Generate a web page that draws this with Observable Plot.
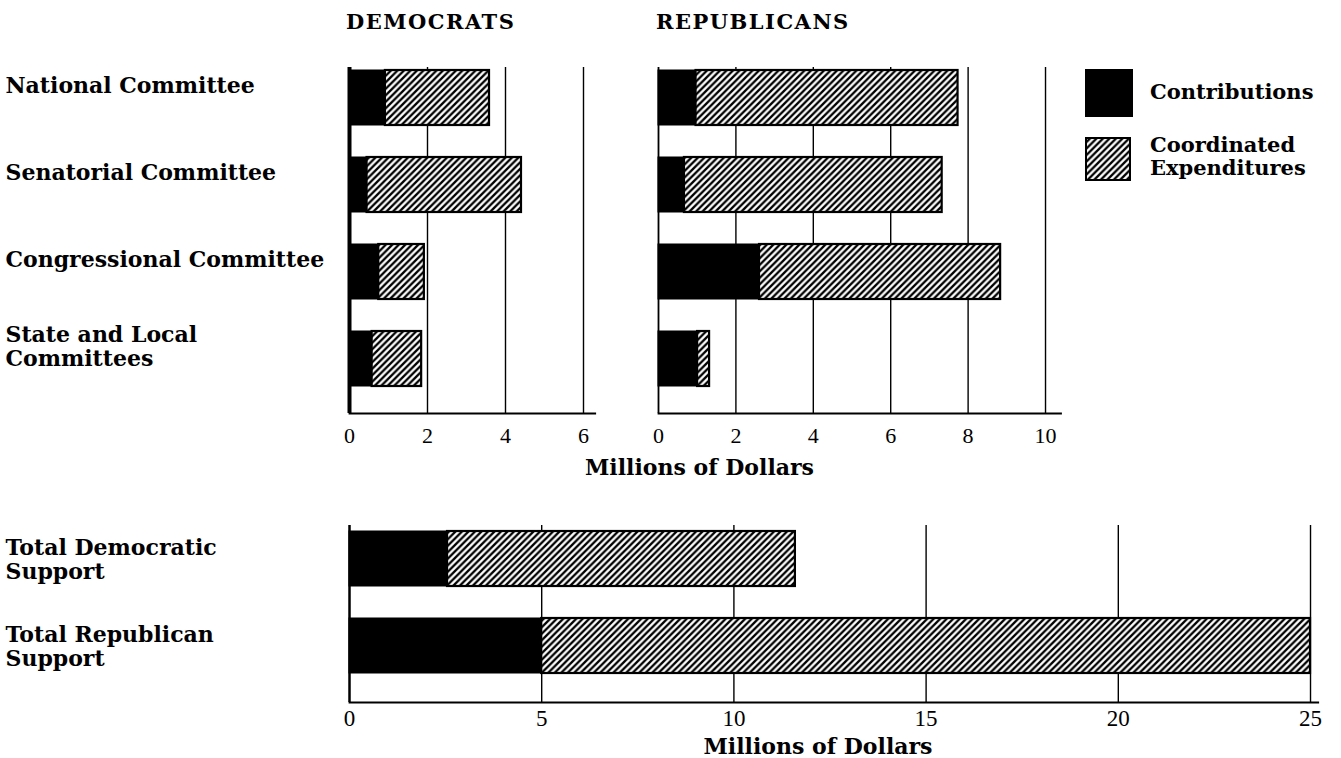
<!DOCTYPE html>
<html><head><meta charset="utf-8">
<script src="https://cdn.jsdelivr.net/npm/d3@7"></script>
<script src="https://cdn.jsdelivr.net/npm/@observablehq/plot@0.6"></script>
<style>
body{margin:0;background:#fff;}
#root{position:relative;width:1341px;height:758px;overflow:hidden;font-family:"DejaVu Serif",serif;color:#000;background:#fff;}
.abs{position:absolute;}
.lbl{font-weight:bold;font-size:21px;line-height:23px;white-space:pre;}
.ttl{font-weight:bold;font-size:21px;letter-spacing:1.5px;white-space:nowrap;}
</style></head><body>
<svg width="0" height="0" style="position:absolute">
<defs><pattern id="hatch" patternUnits="userSpaceOnUse" width="6.5" height="6.5">
<rect width="6.5" height="6.5" fill="white"/>
<path d="M-1.625,1.625 L1.625,-1.625 M0,6.5 L6.5,0 M4.875,8.125 L8.125,4.875" stroke="black" stroke-width="2.3"/>
</pattern></defs></svg>
<div id="root"></div>
<script>
// ---- data ----
const committees = ["National Committee","Senatorial Committee","Congressional Committee","State and Local Committees"];
const committeeLabels = ["National Committee","Senatorial Committee","Congressional Committee","State and Local\nCommittees"];
const demContributions = [0.92, 0.45, 0.75, 0.58];
const demCoordinated   = [2.67, 3.96, 1.17, 1.27];
const repContributions = [0.97, 0.67, 2.61, 1.01];
const repCoordinated   = [6.77, 6.66, 6.23, 0.31];
const totals = ["Total Democratic Support","Total Republican Support"];
const totalLabels = ["Total Democratic\nSupport","Total Republican\nSupport"];
const totalContributions = [2.55, 5.0];
const totalCoordinated   = [9.05, 20.0];
const demTicks = [0, 2, 4, 6];
const repTicks = [0, 2, 4, 6, 8, 10];
const totalTicks = [0, 5, 10, 15, 20, 25];
const panelTitles = ["DEMOCRATS", "REPUBLICANS"];
const legendItems = ["Contributions", "Coordinated\nExpenditures"];
const axisTitle = "Millions of Dollars";

const root = document.getElementById("root");

function panel(o) {
  const rows = o.cats.map((c, i) => ({cat: c, label: o.labels ? o.labels[i] : "", c: o.contrib[i], t: o.contrib[i] + o.coord[i]}));
  const marks = [
    Plot.gridX(o.ticks.filter(d => d !== 0), {stroke: "black", strokeOpacity: 1, strokeWidth: 1.4}),
    Plot.ruleX([0], {stroke: "black", strokeWidth: o.zeroWidth}),
    Plot.frame({anchor: "bottom", stroke: "black", strokeWidth: 1.8}),
    Plot.barX(rows, {y: "cat", x1: "c", x2: "t", fill: "url(#hatch)", stroke: "black", strokeWidth: 2.2}),
    Plot.barX(rows, {y: "cat", x1: 0, x2: "c", fill: "black", stroke: "black", strokeWidth: 1}),
    Plot.axisX(o.ticks, {anchor: "bottom", tickSize: 0, tickPadding: o.tickPadding, fontSize: o.tickFont, label: null, tickFormat: d => String(d)})
  ];
  if (o.labels) {
    marks.push(Plot.text(rows, {y: "cat", text: "label", frameAnchor: "left", textAnchor: "start",
      dx: -(o.marginLeft - 5), dy: o.labelDy, fontSize: 22, fontWeight: "bold", fontFamily: "DejaVu Serif", lineHeight: 1.1, fill: "black"}));
  }
  const svg = Plot.plot({
    width: o.width, height: o.height,
    marginLeft: o.marginLeft, marginRight: o.marginRight, marginTop: o.marginTop, marginBottom: o.marginBottom,
    style: {fontFamily: "Liberation Serif", fontSize: o.tickFont + "px", color: "black", background: "transparent", overflow: "visible"},
    x: {domain: [0, o.xMax]},
    y: {type: "band", domain: o.cats, paddingInner: 0.37, paddingOuter: o.paddingOuter, align: o.align, axis: null},
    marks
  });
  svg.style.position = "absolute";
  svg.style.left = o.left + "px";
  svg.style.top = o.top + "px";
  root.appendChild(svg);
}

// Democrats panel (with row labels)
panel({cats: committees, labels: committeeLabels, contrib: demContributions, coord: demCoordinated, ticks: demTicks,
  xMax: 6.3, left: 0, top: 0, width: 615, height: 460, marginLeft: 349, marginRight: 20.3, marginTop: 67, marginBottom: 47,
  zeroWidth: 4, tickPadding: 14, tickFont: 22, paddingOuter: 0.17, align: 0.1, labelDy: -13});

// Republicans panel
panel({cats: committees, labels: null, contrib: repContributions, coord: repCoordinated, ticks: repTicks,
  xMax: 10.4, left: 615, top: 0, width: 470, height: 460, marginLeft: 43, marginRight: 24.5, marginTop: 67, marginBottom: 47,
  zeroWidth: 1.8, tickPadding: 14, tickFont: 22, paddingOuter: 0.17, align: 0.1, labelDy: 0});

// Totals panel
panel({cats: totals, labels: totalLabels, contrib: totalContributions, coord: totalCoordinated, ticks: totalTicks,
  xMax: 25.2, left: 0, top: 480, width: 1341, height: 278, marginLeft: 349, marginRight: 23.3, marginTop: 45, marginBottom: 56,
  zeroWidth: 2.5, tickPadding: 7, tickFont: 23, paddingOuter: 0.2, align: 0.17, labelDy: 0});

// titles
function addText(txt, cls, left, top, extra) {
  const d = document.createElement("div");
  d.className = "abs " + cls;
  d.textContent = txt;
  d.style.left = left + "px";
  d.style.top = top + "px";
  if (extra) Object.assign(d.style, extra);
  root.appendChild(d);
  return d;
}
addText(panelTitles[0], "ttl", 346, 9);
addText(panelTitles[1], "ttl", 656, 9);
addText(axisTitle, "lbl", 585, 456, {fontSize: "22px"});
addText(axisTitle, "lbl", 818, 735, {transform: "translateX(-50%)", fontSize: "22px", lineHeight: "22px"});

// legend
function swatch(left, top, w, h, fill) {
  const ns = "http://www.w3.org/2000/svg";
  const s = document.createElementNS(ns, "svg");
  s.setAttribute("width", w); s.setAttribute("height", h);
  s.style.position = "absolute"; s.style.left = left + "px"; s.style.top = top + "px";
  const r = document.createElementNS(ns, "rect");
  r.setAttribute("x", 1); r.setAttribute("y", 1); r.setAttribute("width", w - 2); r.setAttribute("height", h - 2);
  r.setAttribute("fill", fill); r.setAttribute("stroke", "black"); r.setAttribute("stroke-width", 2);
  s.appendChild(r);
  root.appendChild(s);
}
swatch(1085, 69, 48, 48, "black");
swatch(1085, 137, 46, 44, "url(#hatch)");
addText(legendItems[0], "lbl", 1150, 80);
addText(legendItems[1], "lbl", 1150, 133);
</script>
</body></html>
